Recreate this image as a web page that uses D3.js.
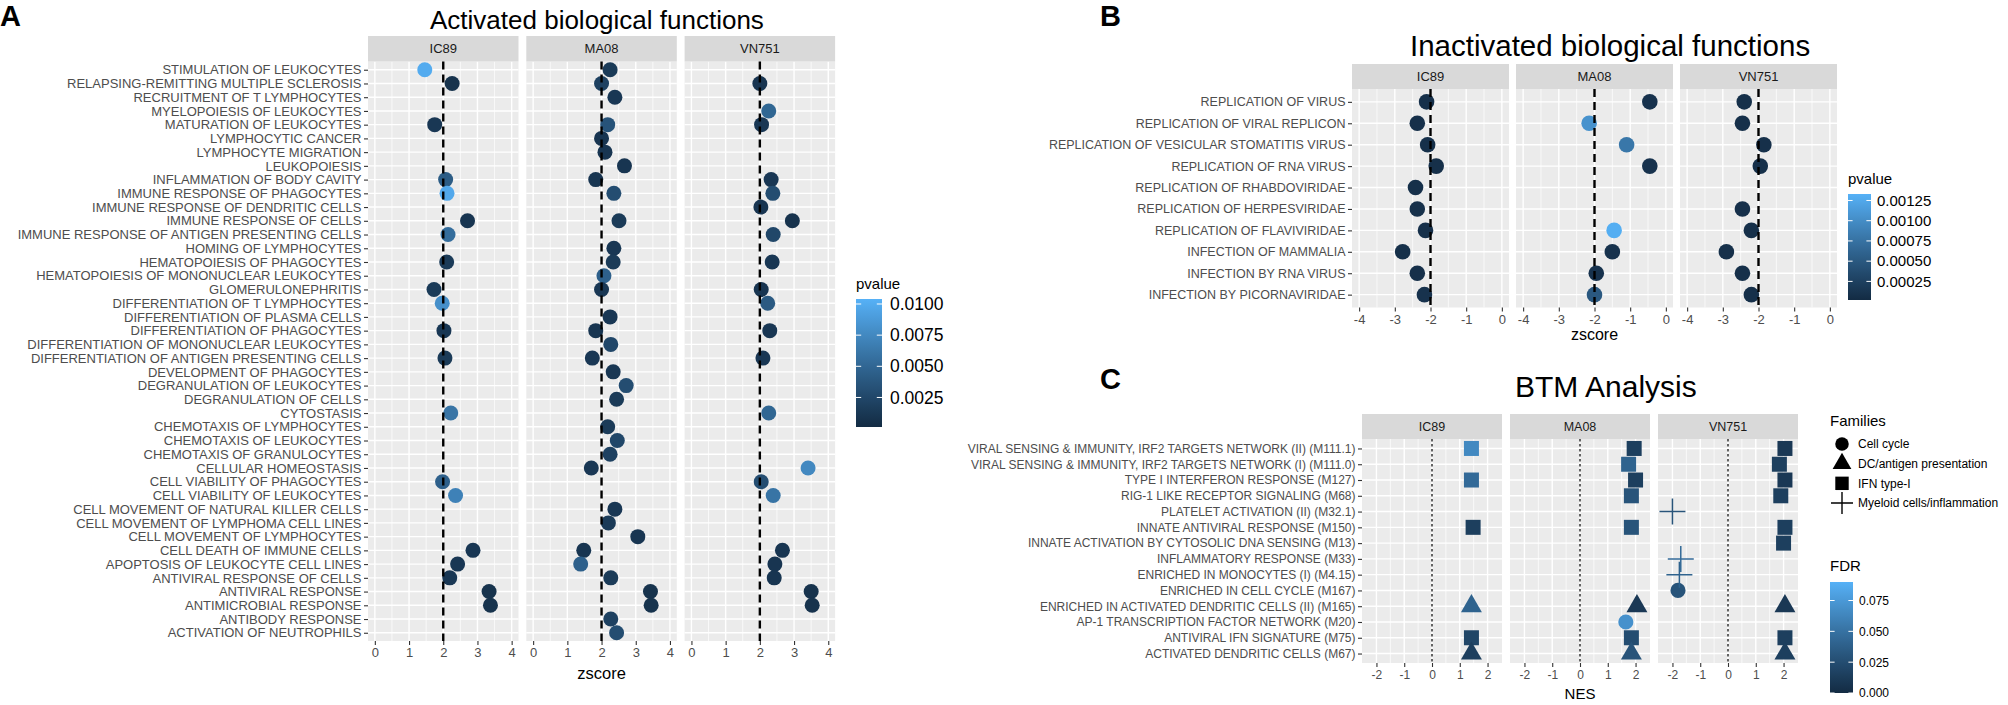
<!DOCTYPE html>
<html>
<head>
<meta charset="utf-8">
<script src="https://cdn.jsdelivr.net/npm/d3@7"></script>
<style>
  body { margin: 0; background: #fff; }
  svg { display: block; font-family: "Liberation Sans", Arial, sans-serif; }
</style>
</head>
<body>
<script>
// ---------- panel A : activated functions ----------
const actTerms = ["STIMULATION OF LEUKOCYTES", "RELAPSING-REMITTING MULTIPLE SCLEROSIS", "RECRUITMENT OF T LYMPHOCYTES",
  "MYELOPOIESIS OF LEUKOCYTES", "MATURATION OF LEUKOCYTES", "LYMPHOCYTIC CANCER", "LYMPHOCYTE MIGRATION", "LEUKOPOIESIS",
  "INFLAMMATION OF BODY CAVITY", "IMMUNE RESPONSE OF PHAGOCYTES", "IMMUNE RESPONSE OF DENDRITIC CELLS", "IMMUNE RESPONSE OF CELLS",
  "IMMUNE RESPONSE OF ANTIGEN PRESENTING CELLS", "HOMING OF LYMPHOCYTES", "HEMATOPOIESIS OF PHAGOCYTES",
  "HEMATOPOIESIS OF MONONUCLEAR LEUKOCYTES", "GLOMERULONEPHRITIS", "DIFFERENTIATION OF T LYMPHOCYTES",
  "DIFFERENTIATION OF PLASMA CELLS", "DIFFERENTIATION OF PHAGOCYTES", "DIFFERENTIATION OF MONONUCLEAR LEUKOCYTES",
  "DIFFERENTIATION OF ANTIGEN PRESENTING CELLS", "DEVELOPMENT OF PHAGOCYTES", "DEGRANULATION OF LEUKOCYTES",
  "DEGRANULATION OF CELLS", "CYTOSTASIS", "CHEMOTAXIS OF LYMPHOCYTES", "CHEMOTAXIS OF LEUKOCYTES", "CHEMOTAXIS OF GRANULOCYTES",
  "CELLULAR HOMEOSTASIS", "CELL VIABILITY OF PHAGOCYTES", "CELL VIABILITY OF LEUKOCYTES", "CELL MOVEMENT OF NATURAL KILLER CELLS",
  "CELL MOVEMENT OF LYMPHOMA CELL LINES", "CELL MOVEMENT OF LYMPHOCYTES", "CELL DEATH OF IMMUNE CELLS",
  "APOPTOSIS OF LEUKOCYTE CELL LINES", "ANTIVIRAL RESPONSE OF CELLS", "ANTIVIRAL RESPONSE", "ANTIMICROBIAL RESPONSE",
  "ANTIBODY RESPONSE", "ACTIVATION OF NEUTROPHILS"];
const strains = ["IC89", "MA08", "VN751"];

const actIC89z = [1.46, 2.26, null, null, 1.75, null, null, null, 2.07, 2.11, null, 2.71, 2.14, null, 2.10, null, 1.73, 1.97, null, 2.02, null,
  2.05, null, null, null, 2.22, null, null, null, null, 1.98, 2.36, null, null, null, 2.87, 2.42, 2.19, 3.34, 3.38, null, null];
const actIC89p = [0.0100, 0.0008, null, null, 0.0012, null, null, null, 0.0042, 0.0098, null, 0.0010, 0.0055, null, 0.0015, null, 0.0015, 0.0080, null, 0.0012, null,
  0.0015, null, null, null, 0.0060, null, null, null, null, 0.0045, 0.0070, null, null, null, 0.0012, 0.0012, 0.0012, 0.0008, 0.0008, null, null];
const actMA08z = [2.25, 2.00, 2.39, null, 2.18, 2.00, 2.10, 2.67, 1.83, 2.36, null, 2.51, null, 2.36, 2.34, 2.07, 2.00, null, 2.25, 1.83, 2.27,
  1.73, 2.34, 2.72, 2.44, null, 2.18, 2.46, 2.25, 1.70, null, null, 2.39, 2.20, 3.06, 1.48, 1.39, 2.27, 3.43, 3.45, 2.27, 2.44];
const actMA08p = [0.0015, 0.0020, 0.0012, null, 0.0035, 0.0010, 0.0010, 0.0010, 0.0010, 0.0030, null, 0.0015, null, 0.0012, 0.0015, 0.0045, 0.0012, null, 0.0012, 0.0010, 0.0025,
  0.0012, 0.0012, 0.0030, 0.0015, null, 0.0015, 0.0025, 0.0020, 0.0012, null, null, 0.0012, 0.0015, 0.0010, 0.0010, 0.0045, 0.0015, 0.0008, 0.0008, 0.0020, 0.0030];
const actVN751z = [null, 2.00, null, 2.26, 2.05, null, null, null, 2.33, 2.38, 2.03, 2.95, 2.39, null, 2.36, null, 2.04, 2.23, null, 2.29, null,
  2.09, null, null, null, 2.26, null, null, null, 3.41, 2.04, 2.39, null, null, null, 2.66, 2.44, 2.42, 3.50, 3.53, null, null];
const actVN751p = [null, 0.0010, null, 0.0050, 0.0012, null, null, null, 0.0012, 0.0030, 0.0010, 0.0008, 0.0025, null, 0.0012, null, 0.0010, 0.0040, null, 0.0012, null,
  0.0012, null, null, null, 0.0050, null, null, null, 0.0075, 0.0030, 0.0060, null, null, null, 0.0010, 0.0010, 0.0010, 0.0008, 0.0008, null, null];
const actTicks = [0, 1, 2, 3, 4];
const actLegendTicks = [0.0025, 0.0050, 0.0075, 0.0100];

// ---------- panel B : inactivated functions ----------
const inTerms = ["REPLICATION OF VIRUS", "REPLICATION OF VIRAL REPLICON", "REPLICATION OF VESICULAR STOMATITIS VIRUS",
  "REPLICATION OF RNA VIRUS", "REPLICATION OF RHABDOVIRIDAE", "REPLICATION OF HERPESVIRIDAE", "REPLICATION OF FLAVIVIRIDAE",
  "INFECTION OF MAMMALIA", "INFECTION BY RNA VIRUS", "INFECTION BY PICORNAVIRIDAE"];
const inIC89z = [-2.11, -2.37, -2.08, -1.84, -2.42, -2.37, -2.14, -2.78, -2.37, -2.17];
const inIC89p = [0.00008, 0.00008, 0.00008, 0.00008, 0.00008, 0.00008, 0.00008, 0.00008, 0.00008, 0.0001];
const inMA08z = [-0.45, -2.15, -1.10, -0.45, null, null, -1.45, -1.50, -1.95, -2.00];
const inMA08p = [0.0001, 0.00105, 0.0008, 0.0001, null, null, 0.0013, 0.0001, 0.0001, 0.0005];
const inVN751z = [-2.40, -2.45, -1.85, -1.95, null, -2.45, -2.20, -2.90, -2.45, -2.20];
const inVN751p = [0.00008, 0.00008, 0.00008, 0.00008, null, 0.00008, 0.00008, 0.00008, 0.00008, 0.00008];
const inTicks = [-4, -3, -2, -1, 0];
const inLegendTicks = [0.00025, 0.00050, 0.00075, 0.00100, 0.00125];

// ---------- panel C : BTM analysis ----------
const btmTerms = ["VIRAL SENSING & IMMUNITY,  IRF2 TARGETS NETWORK (II) (M111.1)", "VIRAL SENSING & IMMUNITY,  IRF2 TARGETS NETWORK (I) (M111.0)",
  "TYPE I INTERFERON RESPONSE (M127)", "RIG-1 LIKE RECEPTOR SIGNALING (M68)", "PLATELET ACTIVATION (II) (M32.1)",
  "INNATE ANTIVIRAL RESPONSE (M150)", "INNATE ACTIVATION BY CYTOSOLIC DNA SENSING (M13)", "INFLAMMATORY RESPONSE (M33)",
  "ENRICHED IN MONOCYTES (I) (M4.15)", "ENRICHED IN CELL CYCLE (M167)", "ENRICHED IN ACTIVATED DENDRITIC CELLS (II) (M165)",
  "AP-1 TRANSCRIPTION FACTOR NETWORK (M20)", "ANTIVIRAL IFN SIGNATURE (M75)", "ACTIVATED DENDRITIC CELLS (M67)"];
const families = ["Cell cycle", "DC/antigen presentation", "IFN type-I", "Myeloid cells/inflammation"];
const btmFamily = ["IFN type-I", "IFN type-I", "IFN type-I", "IFN type-I", "Myeloid cells/inflammation", "IFN type-I", "IFN type-I",
  "Myeloid cells/inflammation", "Myeloid cells/inflammation", "Cell cycle", "DC/antigen presentation", "Cell cycle", "IFN type-I",
  "DC/antigen presentation"];
const btmIC89nes = [1.42, null, 1.42, null, null, 1.48, null, null, null, null, 1.42, null, 1.42, 1.42];
const btmIC89fdr = [0.065, null, 0.045, null, null, 0.015, null, null, null, null, 0.040, null, 0.020, 0.015];
const btmMA08nes = [1.95, 1.75, 2.00, 1.85, null, 1.85, null, null, null, null, 2.05, 1.65, 1.85, 1.85];
const btmMA08fdr = [0.015, 0.040, 0.015, 0.030, null, 0.030, null, null, null, null, 0.010, 0.070, 0.025, 0.030];
const btmVN751nes = [2.05, 1.85, 2.05, 1.90, -2.00, 2.05, 2.00, -1.70, -1.75, -1.80, 2.05, null, 2.05, 2.05];
const btmVN751fdr = [0.010, 0.015, 0.010, 0.015, 0.030, 0.015, 0.015, 0.045, 0.040, 0.030, 0.010, null, 0.015, 0.015];
const btmTicks = [-2, -1, 0, 1, 2];
const btmLegendTicks = [0.000, 0.025, 0.050, 0.075];

// ---------- drawing ----------
const W = 2008, H = 705;
const FONT = '"Liberation Sans", Arial, sans-serif';
const svg = d3.select("body").append("svg").attr("width", W).attr("height", H);
const defs = svg.append("defs");

// ggplot2 default continuous colour scale
function colour(domain) {
  return d3.scaleLinear().domain(domain).range(["#132B43", "#56B1F7"]).interpolate(d3.interpolateLab).clamp(true);
}

function styleAxis(ax, fs) {
  ax.select(".domain").remove();
  ax.selectAll(".tick line").attr("stroke", "#333333").attr("stroke-width", 1.1);
  ax.selectAll(".tick text").attr("fill", "#4D4D4D").style("font-size", fs + "px").style("font-family", FONT);
}

// faceted dot plot in the ggplot grey theme
function facetPlot(c) {
  const g = svg.append("g");
  const y = d3.scalePoint().domain(c.rows).range([c.top, c.bottom]).padding(0.6);
  const xs = c.facets.map((f, i) => {
    const left = c.left + i * (c.pw + c.gap);
    return d3.scaleLinear().domain(c.xDom).range([left, left + c.pw]);
  });

  xs.forEach((x, i) => {
    const [x0, x1] = x.range();
    g.append("rect").attr("x", x0).attr("y", c.top).attr("width", x1 - x0).attr("height", c.bottom - c.top).attr("fill", "#EBEBEB");
    g.append("g").selectAll("line").data(c.minor).join("line")
      .attr("x1", d => x(d)).attr("x2", d => x(d)).attr("y1", c.top).attr("y2", c.bottom)
      .attr("stroke", "#fff").attr("stroke-width", 0.7);
    g.append("g").selectAll("line").data(c.ticks).join("line")
      .attr("x1", d => x(d)).attr("x2", d => x(d)).attr("y1", c.top).attr("y2", c.bottom)
      .attr("stroke", "#fff").attr("stroke-width", 1.4);
    g.append("g").selectAll("line").data(c.rows).join("line")
      .attr("x1", x0).attr("x2", x1).attr("y1", d => y(d)).attr("y2", d => y(d))
      .attr("stroke", "#fff").attr("stroke-width", 1.4);

    // strip
    g.append("rect").attr("x", x0).attr("y", c.stripTop).attr("width", x1 - x0).attr("height", c.top - c.stripTop).attr("fill", "#D9D9D9");
    g.append("text").attr("x", (x0 + x1) / 2).attr("y", (c.stripTop + c.top) / 2).attr("dy", "0.36em")
      .attr("text-anchor", "middle").attr("fill", "#1A1A1A").style("font-size", c.stripFs + "px").text(c.facets[i]);

    const ax = g.append("g").attr("transform", `translate(0,${c.bottom})`)
      .call(d3.axisBottom(x).tickValues(c.ticks).tickSize(4).tickPadding(3).tickFormat(d => String(d)));
    styleAxis(ax, c.tickFs);
  });

  const ay = g.append("g").attr("transform", `translate(${c.left},0)`)
    .call(d3.axisLeft(y).tickSize(4).tickPadding(2.5));
  styleAxis(ay, c.labelFs);

  g.append("text").attr("x", (c.left + xs[xs.length - 1].range()[1]) / 2).attr("y", c.titleY)
    .attr("text-anchor", "middle").attr("fill", "#000").style("font-size", c.titleFs + "px").text(c.xTitle);
  return { g, y, xs };
}

function drawRef(p, c, value, dash, width) {
  p.xs.forEach(x => {
    p.g.append("line").attr("x1", x(value)).attr("x2", x(value)).attr("y1", c.top).attr("y2", c.bottom)
      .attr("stroke", "#000").attr("stroke-width", width).attr("stroke-dasharray", dash);
  });
}

function dots(p, rows, zs, ps, facetIdx, col, r) {
  const x = p.xs[facetIdx];
  const data = rows.map((t, i) => ({ t, z: zs[i], p: ps[i] })).filter(d => d.z != null);
  p.g.append("g").selectAll("circle").data(data).join("circle")
    .attr("cx", d => x(d.z)).attr("cy", d => p.y(d.t)).attr("r", r).attr("fill", d => col(d.p));
}

function colorbar(c) {
  const col = colour(c.domain);
  const grad = defs.append("linearGradient").attr("id", c.id).attr("x1", 0).attr("x2", 0).attr("y1", 1).attr("y2", 0);
  d3.range(0, 1.0001, 0.05).forEach(t => grad.append("stop").attr("offset", t)
    .attr("stop-color", col(c.domain[0] + t * (c.domain[1] - c.domain[0]))));
  const s = d3.scaleLinear().domain(c.domain).range([c.top + c.h, c.top]);
  const g = svg.append("g");
  g.append("text").attr("x", c.x).attr("y", c.titleY).attr("fill", "#000").style("font-size", c.titleFs + "px").text(c.title);
  g.append("rect").attr("x", c.x).attr("y", c.top).attr("width", c.w).attr("height", c.h).attr("fill", `url(#${c.id})`);
  g.append("g").selectAll("path").data(c.ticks).join("path")
    .attr("d", d => `M${c.x},${s(d)}h${c.w / 5}M${c.x + c.w},${s(d)}h${-c.w / 5}`)
    .attr("stroke", "#fff").attr("stroke-width", 1);
  const ax = g.append("g").attr("transform", `translate(${c.x + c.w},0)`)
    .call(d3.axisRight(s).tickValues(c.ticks).tickFormat(c.fmt).tickSize(0).tickPadding(c.pad));
  ax.select(".domain").remove();
  ax.selectAll("text").attr("fill", "#000").style("font-size", c.fs + "px").style("font-family", FONT);
}

// ----- A -----
const cfgA = { rows: actTerms, facets: strains, left: 368, pw: 150.5, gap: 7.8, stripTop: 36, top: 61.5, bottom: 641,
  xDom: [-0.2, 4.2], ticks: actTicks, minor: [0.5, 1.5, 2.5, 3.5], labelFs: 13, tickFs: 13, stripFs: 13,
  xTitle: "zscore", titleY: 679, titleFs: 16.5 };
const pA = facetPlot(cfgA);
const colA = colour([0.00013, 0.0104]);
dots(pA, actTerms, actIC89z, actIC89p, 0, colA, 7.5);
dots(pA, actTerms, actMA08z, actMA08p, 1, colA, 7.5);
dots(pA, actTerms, actVN751z, actVN751p, 2, colA, 7.5);
drawRef(pA, cfgA, 2, "8,5", 2.4);
colorbar({ id: "gA", x: 856, top: 299, w: 26, h: 128, domain: [0.00013, 0.0104], ticks: actLegendTicks, fmt: d3.format(".4f"),
  title: "pvalue", titleY: 289, titleFs: 15, fs: 17.5, pad: 8 });

// ----- B -----
const cfgB = { rows: inTerms, facets: strains, left: 1352, pw: 157, gap: 7, stripTop: 64, top: 89, bottom: 307.5,
  xDom: [-4.2, 0.2], ticks: inTicks, minor: [-3.5, -2.5, -1.5, -0.5], labelFs: 12.5, tickFs: 13, stripFs: 13,
  xTitle: "zscore", titleY: 340, titleFs: 16 };
const pB = facetPlot(cfgB);
const colB = colour([0.00002, 0.00133]);
dots(pB, inTerms, inIC89z, inIC89p, 0, colB, 7.8);
dots(pB, inTerms, inMA08z, inMA08p, 1, colB, 7.8);
dots(pB, inTerms, inVN751z, inVN751p, 2, colB, 7.8);
drawRef(pB, cfgB, -2, "8,5", 2.4);
colorbar({ id: "gB", x: 1848, top: 194, w: 23, h: 106, domain: [0.00002, 0.00133], ticks: inLegendTicks, fmt: d3.format(".5f"),
  title: "pvalue", titleY: 184, titleFs: 15, fs: 15, pad: 6 });

// ----- C -----
const cfgC = { rows: btmTerms, facets: strains, left: 1362, pw: 140, gap: 8, stripTop: 414, top: 439, bottom: 663,
  xDom: [-2.52, 2.52], ticks: btmTicks, minor: [-1.5, -0.5, 0.5, 1.5], labelFs: 12, tickFs: 12, stripFs: 12.5,
  xTitle: "NES", titleY: 699, titleFs: 15 };
const pC = facetPlot(cfgC);
const colC = colour([0, 0.09]);
const shapeOf = d3.scaleOrdinal().domain(families).range([d3.symbolCircle, d3.symbolTriangle, d3.symbolSquare, null]);
const sizeOf = d3.scaleOrdinal().domain(families).range([180, 190, 225, 0]);
function btmMarks(nes, fdr, facetIdx) {
  const x = pC.xs[facetIdx];
  const data = btmTerms.map((t, i) => ({ t, v: nes[i], q: fdr[i], f: btmFamily[i] })).filter(d => d.v != null);
  const g = pC.g.append("g");
  g.selectAll("path.sym").data(data.filter(d => shapeOf(d.f))).join("path").attr("class", "sym")
    .attr("transform", d => `translate(${x(d.v)},${pC.y(d.t)})`)
    .attr("d", d => d3.symbol(shapeOf(d.f), sizeOf(d.f))())
    .attr("fill", d => colC(d.q));
  g.selectAll("path.plus").data(data.filter(d => !shapeOf(d.f))).join("path").attr("class", "plus")
    .attr("transform", d => `translate(${x(d.v)},${pC.y(d.t)})`)
    .attr("d", "M-13,0H13M0,-13V13").attr("fill", "none").attr("stroke-width", 1.5)
    .attr("stroke", d => colC(d.q));
}
btmMarks(btmIC89nes, btmIC89fdr, 0);
btmMarks(btmMA08nes, btmMA08fdr, 1);
btmMarks(btmVN751nes, btmVN751fdr, 2);
drawRef(pC, cfgC, 0, "2.5,2.5", 1.2);

// families legend
const famY = d3.scalePoint().domain(families).range([444, 503]);
const famX = 1842;
const famG = svg.append("g");
famG.append("text").attr("x", 1830).attr("y", 426).style("font-size", "15px").text("Families");
famG.selectAll("path.k").data(families.filter(f => shapeOf(f))).join("path").attr("class", "k")
  .attr("transform", f => `translate(${famX},${famY(f)})`).attr("d", f => d3.symbol(shapeOf(f), sizeOf(f) * 0.8)()).attr("fill", "#000");
famG.append("path").attr("transform", `translate(${famX},${famY(families[3])})`)
  .attr("d", "M-11,0H11M0,-11V11").attr("stroke", "#000").attr("stroke-width", 1.4);
famG.selectAll("text.l").data(families).join("text").attr("class", "l")
  .attr("x", famX + 16).attr("y", f => famY(f)).attr("dy", "0.35em").style("font-size", "12px").text(f => f);

colorbar({ id: "gC", x: 1830, top: 582, w: 23, h: 111, domain: [0, 0.09], ticks: btmLegendTicks, fmt: d3.format(".3f"),
  title: "FDR", titleY: 571, titleFs: 15, fs: 12, pad: 6 });

// ----- titles and panel letters -----
const titles = [
  { t: "Activated biological functions", x: 430, y: 29, fs: 26 },
  { t: "Inactivated biological functions", x: 1410, y: 56, fs: 29.5 },
  { t: "BTM Analysis", x: 1515, y: 397, fs: 30 }];
svg.selectAll("text.title").data(titles).join("text").attr("class", "title")
  .attr("x", d => d.x).attr("y", d => d.y).style("font-size", d => d.fs + "px").text(d => d.t);
const letters = [{ t: "A", x: 0, y: 26 }, { t: "B", x: 1100, y: 26 }, { t: "C", x: 1100, y: 389 }];
svg.selectAll("text.letter").data(letters).join("text").attr("class", "letter")
  .attr("x", d => d.x).attr("y", d => d.y).style("font-size", "29px").style("font-weight", "bold").text(d => d.t);
</script>
</body>
</html>
